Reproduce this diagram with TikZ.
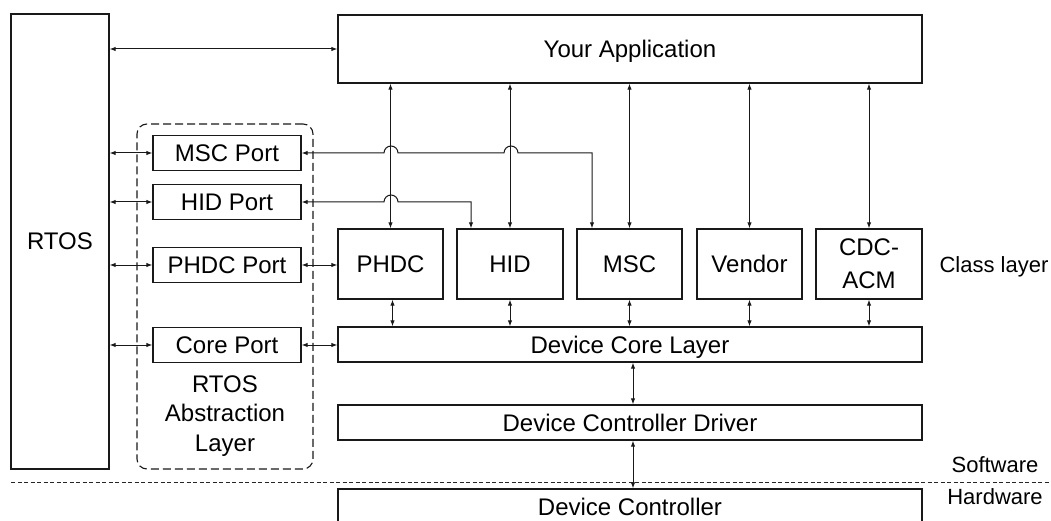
\documentclass[tikz,border=0pt]{standalone}
\usepackage{fontspec}
\setmainfont{Liberation Sans}
\usetikzlibrary{arrows.meta}
\begin{document}
\begin{tikzpicture}[x=1pt,y=-1pt,
  boxbase/.style={draw=black!90, line width=1.2pt, inner sep=0pt, align=center,
    font=\fontsize{24}{33}\selectfont},
  box/.style={boxbase, text height=17pt, text depth=0pt},
  conn/.style={draw=black!90, line width=1pt,
    {Latex[length=6pt,width=4.4pt]}-{Latex[length=6pt,width=4.4pt]}},
  lbl/.style={inner sep=0pt, font=\fontsize{22}{26}\selectfont, text height=16pt, text depth=0pt},
  ralbox/.style={draw=black!90, line width=1.1pt, dash pattern=on 8pt off 4pt, rounded corners=10pt, inner sep=0pt},
  hwline/.style={draw=black!85, line width=0.9pt, dash pattern=on 4pt off 2.5pt}]
\useasboundingbox (0,0) rectangle (1051,521);

% RTOS abstraction layer (dashed)
\node[ralbox, minimum width=176pt, minimum height=345pt] (ral) at (225,296.5) {};
\node[anchor=north, inner sep=0pt, align=center, font=\fontsize{24}{29.5}\selectfont]
  (raltext) at (225,375.5) {RTOS\\Abstraction\\Layer};

% main boxes
\node[box, minimum width=98pt, minimum height=455pt] (rtos) at (60,241.5) {RTOS};
\node[box, minimum width=584pt, minimum height=68pt] (app) at (630,49) {Your Application};

\node[box, minimum width=148pt, minimum height=35pt] (mscp) at (227,153) {MSC Port};
\node[box, minimum width=148pt, minimum height=35pt] (hidp) at (227,202) {HID Port};
\node[box, minimum width=148pt, minimum height=35pt] (phdcp) at (227,265) {PHDC Port};
\node[box, minimum width=148pt, minimum height=35pt] (corep) at (227,345) {Core Port};

\node[box, minimum width=105pt, minimum height=70pt] (phdc) at (390.5,264) {PHDC};
\node[box, minimum width=106pt, minimum height=70pt] (hid) at (510,264) {HID};
\node[box, minimum width=105pt, minimum height=70pt] (msc) at (629.5,264) {MSC};
\node[box, minimum width=105pt, minimum height=70pt] (vendor) at (749.5,264) {Vendor};
\node[boxbase, minimum width=106pt, minimum height=70pt] (cdc) at (869,264) {CDC-\\ACM};

\node[box, minimum width=584pt, minimum height=35pt] (core) at (630,344.5) {Device Core Layer};
\node[box, minimum width=584pt, minimum height=35pt] (driver) at (630,422.5) {Device Controller Driver};
\node[box, minimum width=584pt, minimum height=36pt] (ctrl) at (630,507) {Device Controller};

% labels
\node[lbl] (classlbl) at (994,264) {Class layer};
\node[lbl] (swlbl) at (995,464) {Software};
\node[lbl] (hwlbl) at (995,496) {Hardware};

% software / hardware boundary
\coordinate (swl) at (11,482);
\coordinate (swr) at (1051,482);
\draw[hwline] (swl) -- (swr);

% RTOS connections
\draw[conn] (rtos.east |- app.west) -- (app.west);
\draw[conn] (rtos.east |- mscp.west) -- (mscp.west);
\draw[conn] (rtos.east |- hidp.west) -- (hidp.west);
\draw[conn] (rtos.east |- phdcp.west) -- (phdcp.west);
\draw[conn] (rtos.east |- corep.west) -- (corep.west);

% port connections
\draw[conn] (phdcp.east) -- (phdcp.east -| phdc.west);
\draw[conn] (corep.east) -- (corep.east -| core.west);
\draw[conn] (mscp.east) -- (384,153) arc[start angle=180, end angle=0, radius=7pt]
  -- (504,153) arc[start angle=180, end angle=0, radius=7pt]
  -- (592,153) -- (592,153 |- msc.north);
\draw[conn] (hidp.east) -- (384,202) arc[start angle=180, end angle=0, radius=7pt]
  -- (471,202) -- (471,202 |- hid.north);

% application to classes
\foreach \c in {phdc,hid,msc,vendor,cdc}
  \draw[conn] (\c.north |- app.south) -- (\c.north);

% classes to core
\draw[conn] ([xshift=2pt]phdc.south) -- ([xshift=2pt]phdc.south |- core.north);
\foreach \c in {hid,msc,vendor,cdc}
  \draw[conn] (\c.south) -- (\c.south |- core.north);

% core to driver to controller
\draw[conn] ([xshift=3pt]core.south) -- ([xshift=3pt]driver.north);
\draw[conn] ([xshift=3pt]driver.south) -- ([xshift=3pt]ctrl.north);
\end{tikzpicture}
\end{document}
